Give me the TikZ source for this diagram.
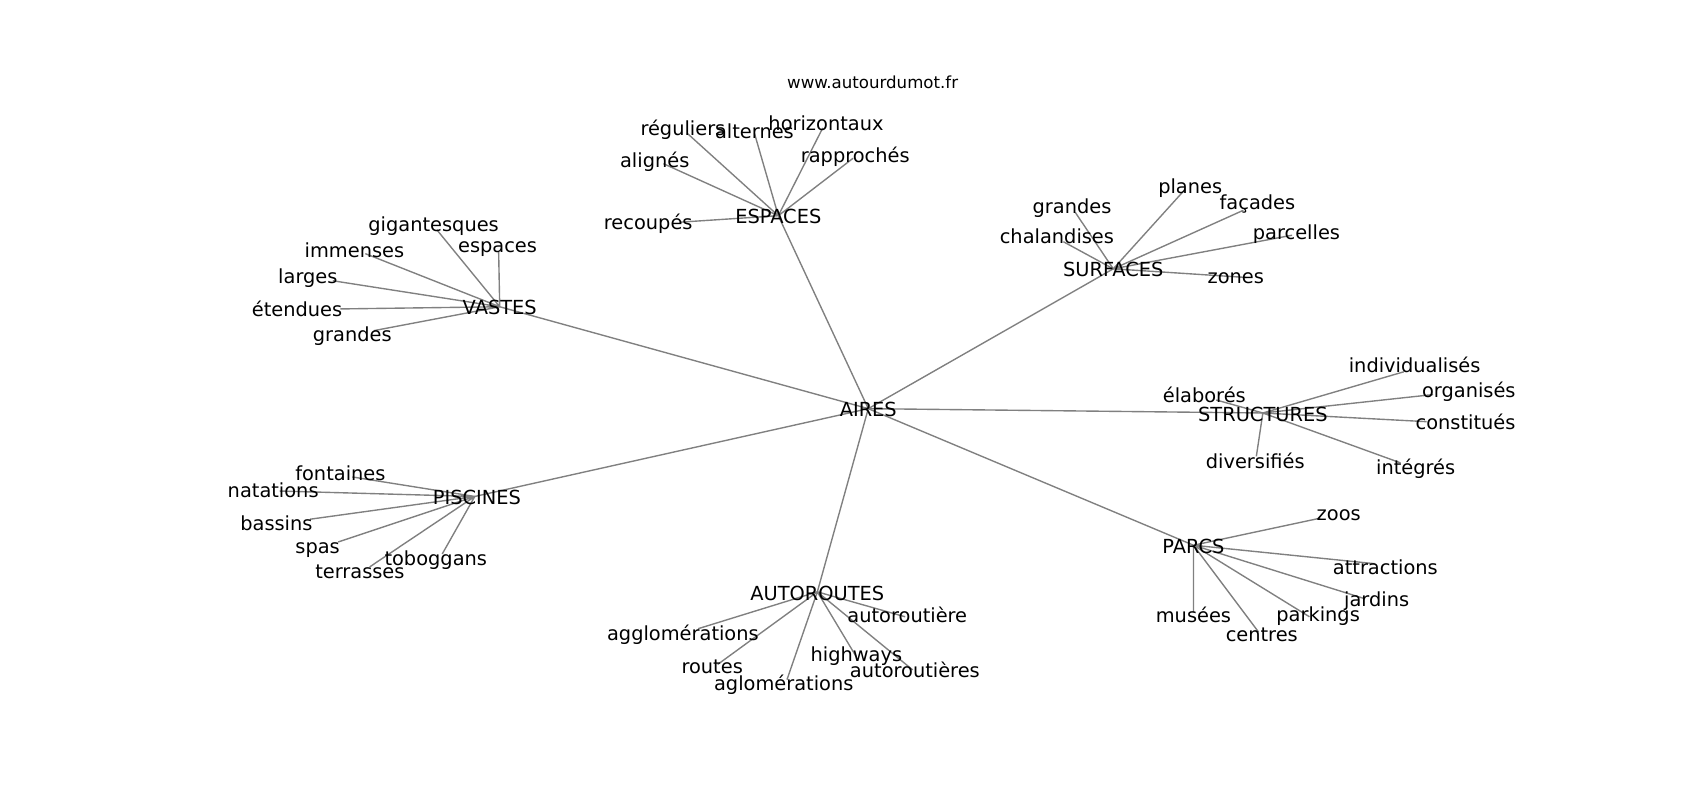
\documentclass[tikz,border=0pt]{standalone}
\usepackage{fontspec}
\setmainfont{DejaVu Sans}
\definecolor{linkgray}{gray}{0.5}

\tikzset{
	word/.style={inner sep=0pt, text height=10.6pt, text depth=3.4pt, font=\fontsize{14pt}{17pt}\selectfont},
	hubword/.style={word, yshift=-2.3pt},
	site/.style={inner sep=0pt, text height=9.1pt, text depth=2.9pt, font=\fontsize{12pt}{14pt}\selectfont},
	link/.style={draw=linkgray, line width=1pt}
}

\begin{document}
\begin{tikzpicture}[x=0.01084in, y=-0.01084in]
	\useasboundingbox (0,0) rectangle (1568.3,738);

	\coordinate (aires) at (801,377);
	\coordinate (espaces) at (718,199);
	\coordinate (vastes) at (461,283);
	\coordinate (surfaces) at (1027,248);
	\coordinate (structures) at (1165,381);
	\coordinate (parcs) at (1101,503);
	\coordinate (autoroutes) at (754,546);
	\coordinate (piscines) at (438,458);

	\coordinate (p-reguliers) at (634,123);
	\coordinate (p-alternes) at (696,123);
	\coordinate (p-horizontaux) at (759,118);
	\coordinate (p-rapproches) at (787,146);
	\coordinate (p-alignes) at (612,151);
	\coordinate (p-recoupes) at (627,205);

	\coordinate (p-gigantesques) at (403,212);
	\coordinate (p-espaces-v) at (460,232);
	\coordinate (p-immenses) at (337,234);
	\coordinate (p-larges) at (307,259);
	\coordinate (p-etendues) at (314,285);
	\coordinate (p-grandes-v) at (345,305);

	\coordinate (p-planes) at (1093,175);
	\coordinate (p-facades) at (1147,194);
	\coordinate (p-grandes-s) at (992,196);
	\coordinate (p-chalandises) at (981,223);
	\coordinate (p-parcelles) at (1192,217);
	\coordinate (p-zones) at (1150,256);

	\coordinate (p-individualises) at (1295,343);
	\coordinate (p-elabores) at (1122,369);
	\coordinate (p-organises) at (1322,364);
	\coordinate (p-constitues) at (1316,389);
	\coordinate (p-diversifies) at (1159,421);
	\coordinate (p-integres) at (1292,427);

	\coordinate (p-zoos) at (1218,478);
	\coordinate (p-attractions) at (1268,520);
	\coordinate (p-jardins) at (1258,552);
	\coordinate (p-parkings) at (1208,569);
	\coordinate (p-musees) at (1101,565);
	\coordinate (p-centres) at (1161,583);

	\coordinate (p-agglomerations) at (644,580);
	\coordinate (p-autoroutiere) at (835,569);
	\coordinate (p-routes) at (662,613);
	\coordinate (p-highways) at (790,606);
	\coordinate (p-aglomerations) at (726,627);
	\coordinate (p-autoroutieres) at (842,618);

	\coordinate (p-fontaines) at (325,440);
	\coordinate (p-natations) at (258,453);
	\coordinate (p-bassins) at (286,479);
	\coordinate (p-spas) at (312,500);
	\coordinate (p-toboggans) at (408,511);
	\coordinate (p-terrasses) at (341,523);

	\draw[link] (aires) -- (espaces) (aires) -- (vastes) (aires) -- (surfaces) (aires) -- (structures);
	\draw[link] (aires) -- (parcs) (aires) -- (autoroutes) (aires) -- (piscines);

	\draw[link] (espaces) -- (p-reguliers) (espaces) -- (p-alternes) (espaces) -- (p-horizontaux);
	\draw[link] (espaces) -- (p-rapproches) (espaces) -- (p-alignes) (espaces) -- (p-recoupes);
	\draw[link] (vastes) -- (p-gigantesques) (vastes) -- (p-espaces-v) (vastes) -- (p-immenses);
	\draw[link] (vastes) -- (p-larges) (vastes) -- (p-etendues) (vastes) -- (p-grandes-v);
	\draw[link] (surfaces) -- (p-planes) (surfaces) -- (p-facades) (surfaces) -- (p-grandes-s);
	\draw[link] (surfaces) -- (p-chalandises) (surfaces) -- (p-parcelles) (surfaces) -- (p-zones);
	\draw[link] (structures) -- (p-individualises) (structures) -- (p-elabores) (structures) -- (p-organises);
	\draw[link] (structures) -- (p-constitues) (structures) -- (p-diversifies) (structures) -- (p-integres);
	\draw[link] (parcs) -- (p-zoos) (parcs) -- (p-attractions) (parcs) -- (p-jardins);
	\draw[link] (parcs) -- (p-parkings) (parcs) -- (p-musees) (parcs) -- (p-centres);
	\draw[link] (autoroutes) -- (p-agglomerations) (autoroutes) -- (p-autoroutiere) (autoroutes) -- (p-routes);
	\draw[link] (autoroutes) -- (p-highways) (autoroutes) -- (p-aglomerations) (autoroutes) -- (p-autoroutieres);
	\draw[link] (piscines) -- (p-fontaines) (piscines) -- (p-natations) (piscines) -- (p-bassins);
	\draw[link] (piscines) -- (p-spas) (piscines) -- (p-toboggans) (piscines) -- (p-terrasses);

	\node[site] (site) at (805,78) {www.autourdumot.fr};

	\node[hubword] (t-aires) at (aires) {AIRES};
	\node[hubword] (t-espaces) at (espaces) {ESPACES};
	\node[hubword] (t-vastes) at (vastes) {VASTES};
	\node[hubword] (t-surfaces) at (surfaces) {SURFACES};
	\node[hubword] (t-structures) at (structures) {STRUCTURES};
	\node[hubword] (t-parcs) at (parcs) {PARCS};
	\node[hubword] (t-autoroutes) at (autoroutes) {AUTOROUTES};
	\node[hubword] (t-piscines) at (440,458) {PISCINES};

	\node[word] (reguliers) at (630,120) {réguliers};
	\node[word] (alternes) at (696,123) {alternes};
	\node[word] (horizontaux) at (762,116) {horizontaux};
	\node[word] (rapproches) at (789,145) {rapprochés};
	\node[word] (alignes) at (604,150) {alignés};
	\node[word] (recoupes) at (598,207) {recoupés};

	\node[word] (gigantesques) at (400,209) {gigantesques};
	\node[word] (espaces-v) at (459,228) {espaces};
	\node[word] (immenses) at (327,233) {immenses};
	\node[word] (larges) at (284,257) {larges};
	\node[word] (etendues) at (274,287) {étendues};
	\node[word] (grandes-v) at (325,310) {grandes};

	\node[word] (planes) at (1098,174) {planes};
	\node[word] (facades) at (1160,189) {façades};
	\node[word] (grandes-s) at (989,192) {grandes};
	\node[word] (chalandises) at (975,220) {chalandises};
	\node[word] (parcelles) at (1196,216) {parcelles};
	\node[word] (zones) at (1140,257) {zones};

	\node[word] (individualises) at (1305,339) {individualisés};
	\node[word] (elabores) at (1111,367) {élaborés};
	\node[word] (organises) at (1355,362) {organisés};
	\node[word] (constitues) at (1352,392) {constitués};
	\node[word] (diversifies) at (1158,428) {diversifiés};
	\node[word] (integres) at (1306,433) {intégrés};

	\node[word] (zoos) at (1235,476) {zoos};
	\node[word] (attractions) at (1278,525) {attractions};
	\node[word] (jardins) at (1270,555) {jardins};
	\node[word] (parkings) at (1216,569) {parkings};
	\node[word] (musees) at (1101,570) {musées};
	\node[word] (centres) at (1164,587) {centres};

	\node[word] (agglomerations) at (630,586) {agglomérations};
	\node[word] (autoroutiere) at (837,570) {autoroutière};
	\node[word] (routes) at (657,617) {routes};
	\node[word] (highways) at (790,606) {highways};
	\node[word] (aglomerations) at (723,632) {aglomérations};
	\node[word] (autoroutieres) at (844,620) {autoroutières};

	\node[word] (fontaines) at (314,439) {fontaines};
	\node[word] (natations) at (252,454) {natations};
	\node[word] (bassins) at (255,485) {bassins};
	\node[word] (spas) at (293,506) {spas};
	\node[word] (toboggans) at (402,517) {toboggans};
	\node[word] (terrasses) at (332,529) {terrasses};
\end{tikzpicture}
\end{document}
